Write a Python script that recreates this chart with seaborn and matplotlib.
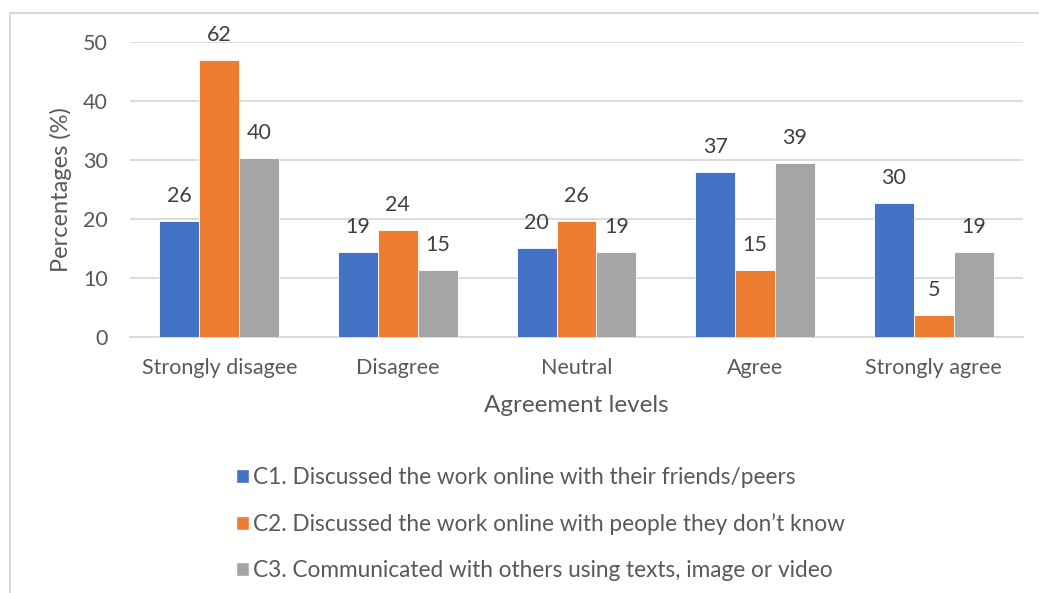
import matplotlib
matplotlib.use("Agg")
import matplotlib.pyplot as plt
import seaborn as sns
import pandas as pd
from matplotlib.patches import Rectangle

# Response counts per agreement level (n = 132 respondents per item)
levels = ["Strongly disagee", "Disagree", "Neutral", "Agree", "Strongly agree"]
series = [
    "C1. Discussed the work online with their friends/peers",
    "C2. Discussed the work online with people they don\u2019t know",
    "C3. Communicated with others using texts, image or video",
]
c1_counts = [26, 19, 20, 37, 30]
c2_counts = [62, 24, 26, 15, 5]
c3_counts = [40, 15, 19, 39, 19]
colors = ["#4472C4", "#ED7D31", "#A5A5A5"]
y_ticks = [0, 10, 20, 30, 40, 50]

rows = []
for name, counts in zip(series, [c1_counts, c2_counts, c3_counts]):
    total = sum(counts)
    for lvl, c in zip(levels, counts):
        rows.append({"level": lvl, "item": name, "count": c, "pct": c / total * 100})
df = pd.DataFrame(rows)

sns.set_theme(style="white")
plt.rcParams["font.family"] = ["Lato", "DejaVu Sans"]
text_color = "#595959"
grid_color = "#D9D9D9"

fig = plt.figure(figsize=(10.39, 5.93), dpi=100)
ax = fig.add_axes([130 / 1039, 1 - 337 / 593, 893 / 1039, 295 / 593])

sns.barplot(data=df, x="level", y="pct", hue="item", order=levels, hue_order=series,
            palette=colors, width=0.67, saturation=1, ax=ax, legend=False,
            linewidth=0.6, edgecolor="white", zorder=3)

# Count labels above each bar
for container, name in zip(ax.containers, series):
    counts = df[df["item"] == name].set_index("level").loc[levels, "count"].tolist()
    for bar, c in zip(container, counts):
        ax.annotate(str(c), (bar.get_x() + bar.get_width() / 2, bar.get_height()),
                    xytext=(0, 18), textcoords="offset points", ha="center", va="center",
                    fontsize=15.5, color="#404040")

ax.set_ylim(0, 50)
ax.set_yticks(y_ticks)
ax.set_xlim(-0.5, len(levels) - 0.5)
ax.yaxis.grid(True, color=grid_color, linewidth=1.3, zorder=0)
ax.set_axisbelow(True)
for s in ["top", "right", "left"]:
    ax.spines[s].set_visible(False)
ax.spines["bottom"].set_color(grid_color)
ax.spines["bottom"].set_linewidth(1.3)
ax.tick_params(axis="both", length=0, labelsize=15.5, colors=text_color)
ax.tick_params(axis="x", pad=15)
ax.tick_params(axis="y", pad=16)
ax.set_xlabel("Agreement levels", fontsize=17.5, color=text_color, labelpad=12)
ax.set_ylabel("Percentages (%)", fontsize=17, color=text_color, labelpad=8)

handles = [Rectangle((0, 0), 1, 1, facecolor=c) for c in colors]
fig.legend(handles, series, loc="center left", bbox_to_anchor=(216 / 1039, 1 - 524 / 593),
           frameon=False, fontsize=16.3, labelcolor=text_color, handlelength=0.55,
           handleheight=0.6, handletextpad=0.2, labelspacing=1.1)

# Chart area frame
fig.patches.append(Rectangle((10 / 1039, -0.05), 1.1, 1 - 13 / 593 + 0.05,
                             transform=fig.transFigure, fill=False,
                             edgecolor=grid_color, linewidth=1.5))

fig.savefig("out.png", dpi=100)
